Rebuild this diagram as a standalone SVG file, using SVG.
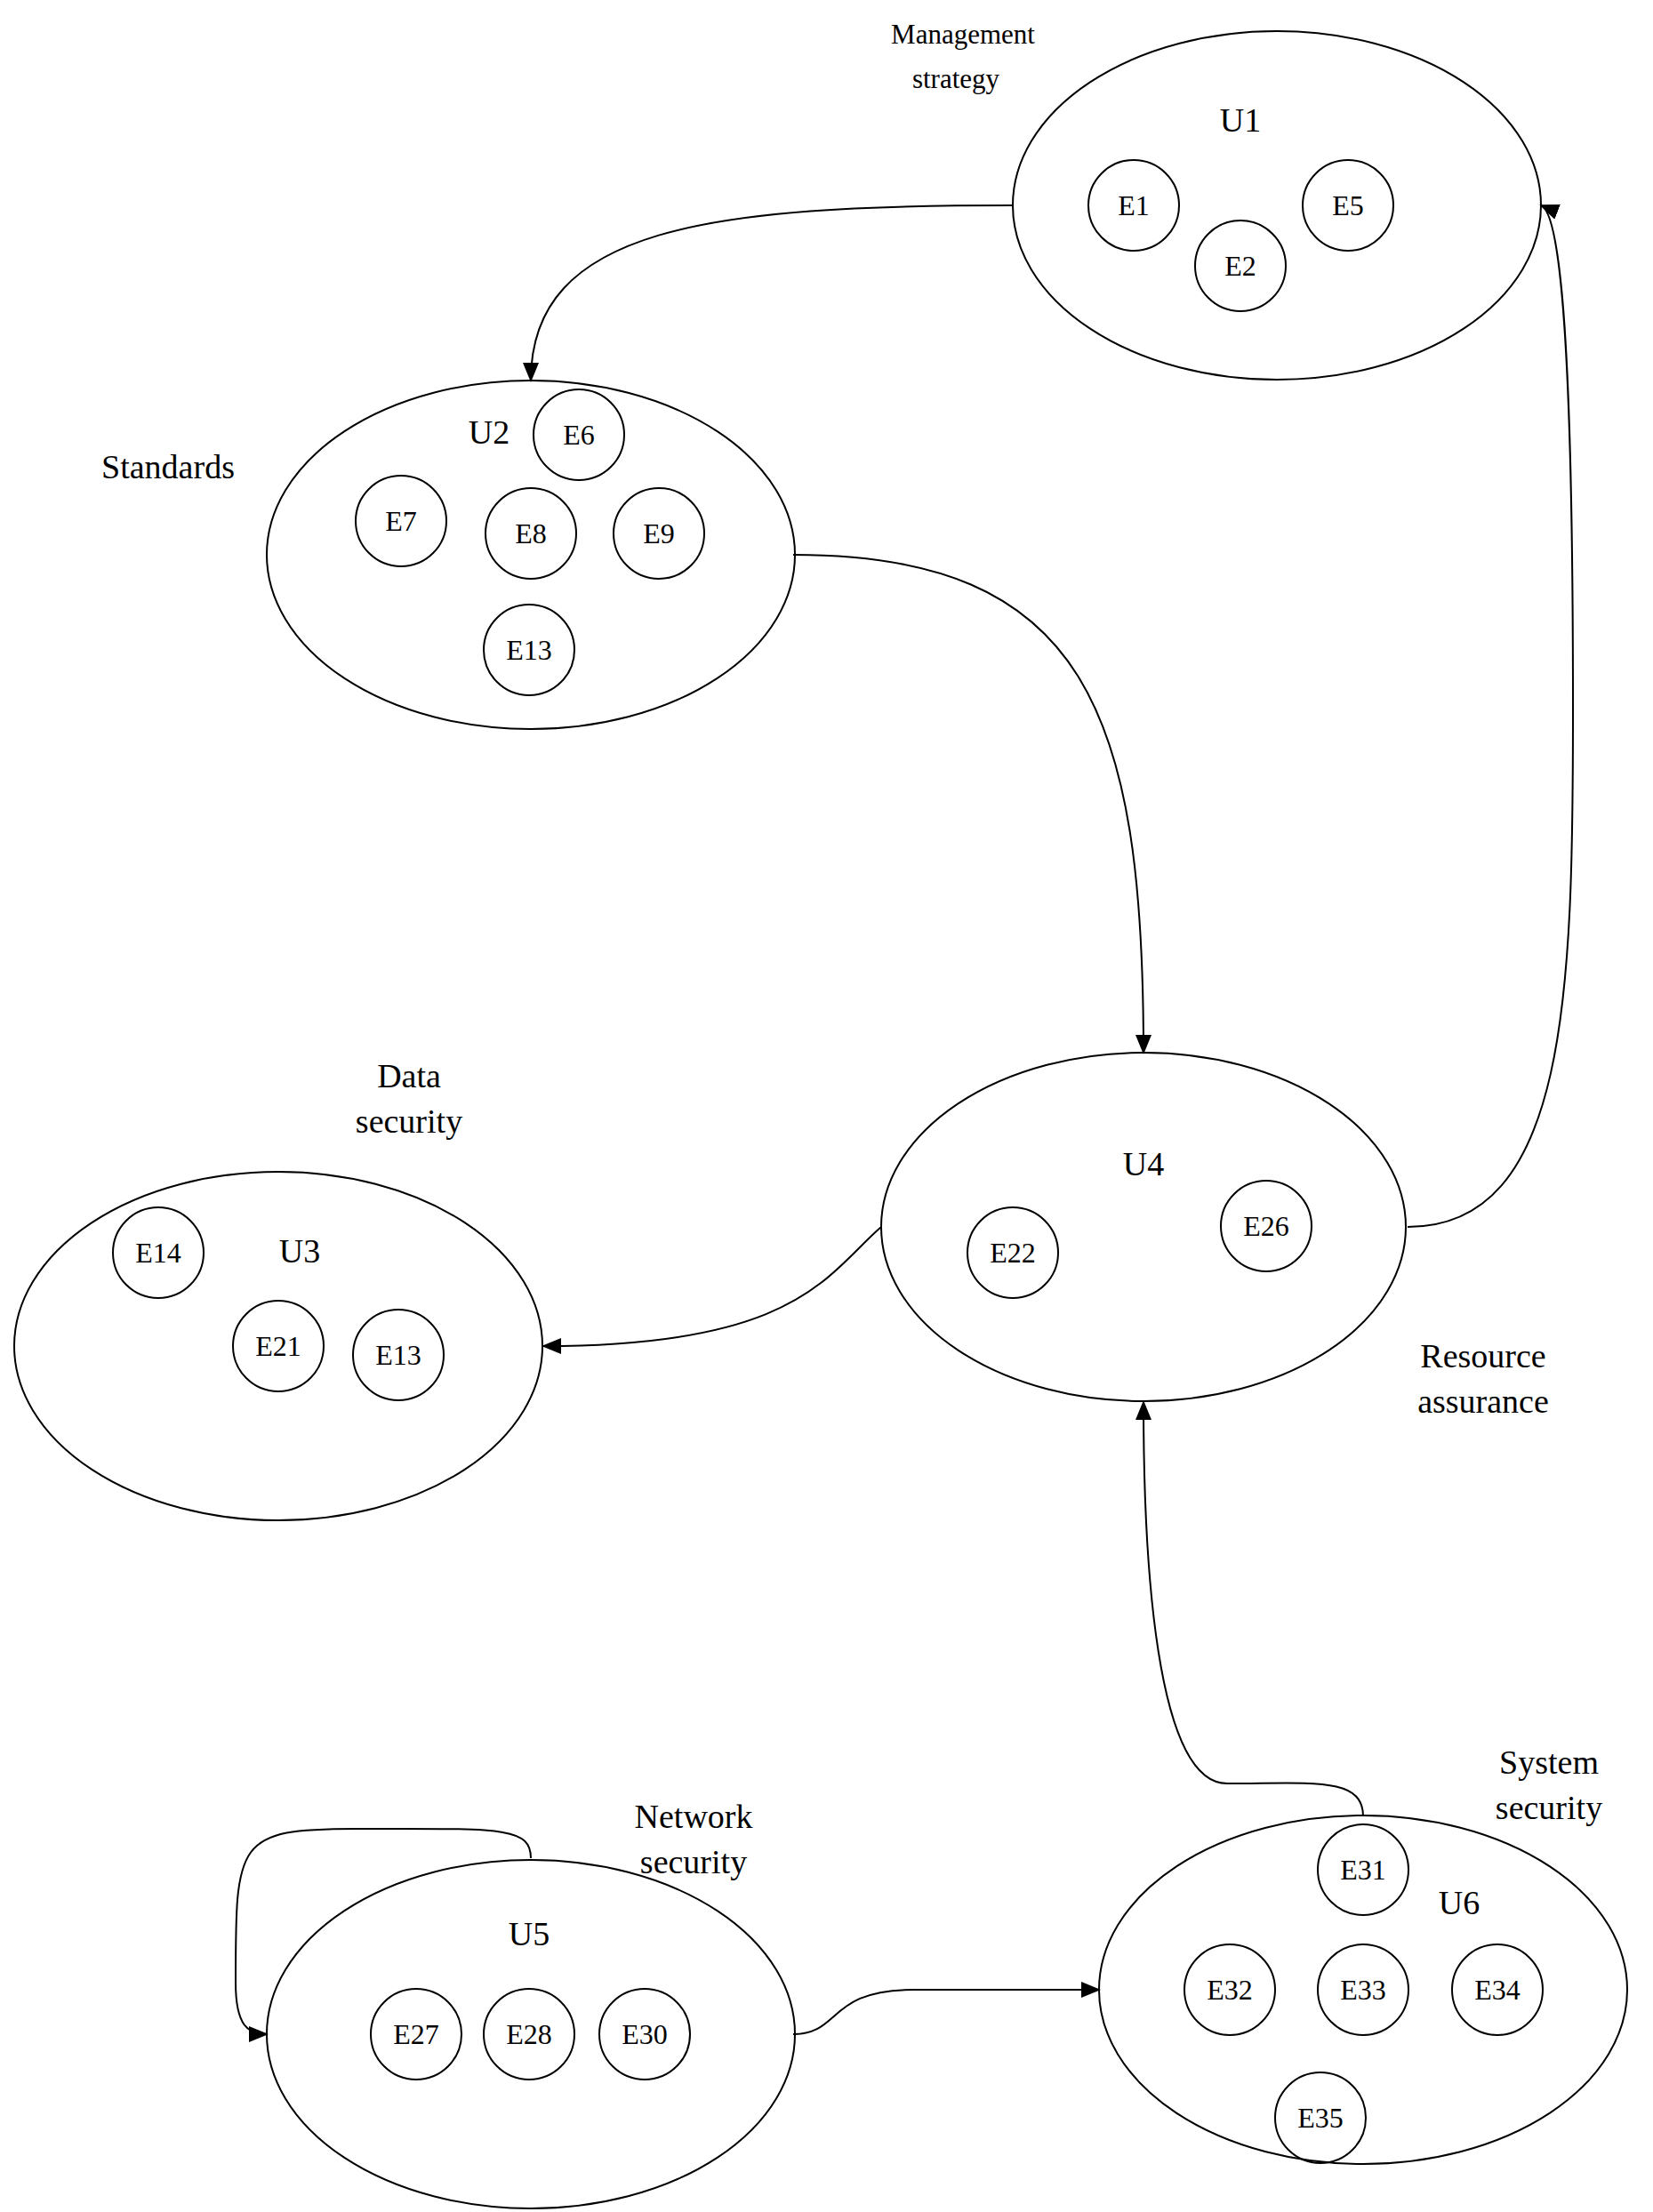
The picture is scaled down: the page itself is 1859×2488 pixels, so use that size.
<svg xmlns="http://www.w3.org/2000/svg" width="1859" height="2488" viewBox="0 0 1859 2488">
<style>
.big{fill:none;stroke:#000;stroke-width:2}
.sm{fill:none;stroke:#000;stroke-width:2}
text{font-family:"Liberation Serif",serif;fill:#000;text-anchor:middle;dominant-baseline:central}
.u{font-size:38px}.e{font-size:32px}.l{font-size:38px}.m{font-size:31px}
.c{fill:none;stroke:#000;stroke-width:2;marker-end:url(#a)}
</style>
<defs><marker id="a" markerUnits="userSpaceOnUse" markerWidth="22" markerHeight="18" refX="20" refY="9" orient="auto"><path d="M0,0 L22,9 L0,18 Z" fill="#000"/></marker></defs>
<rect width="1859" height="2488" fill="#fff"/>
<g id="U1"><ellipse class="big" cx="1436" cy="231" rx="297" ry="196"/><text class="u" x="1395" y="135">U1</text>
<circle class="sm" cx="1275" cy="231" r="51"/><text class="e" x="1275" y="231">E1</text>
<circle class="sm" cx="1395" cy="299" r="51"/><text class="e" x="1395" y="299">E2</text>
<circle class="sm" cx="1516" cy="231" r="51"/><text class="e" x="1516" y="231">E5</text>
<text class="m" x="1083" y="38">Management</text><text class="m" x="1075" y="88">strategy</text></g>
<g id="U2"><ellipse class="big" cx="597" cy="624" rx="297" ry="196"/><text class="u" x="550" y="486">U2</text>
<circle class="sm" cx="651" cy="489" r="51"/><text class="e" x="651" y="489">E6</text>
<circle class="sm" cx="451" cy="586" r="51"/><text class="e" x="451" y="586">E7</text>
<circle class="sm" cx="597" cy="600" r="51"/><text class="e" x="597" y="600">E8</text>
<circle class="sm" cx="741" cy="600" r="51"/><text class="e" x="741" y="600">E9</text>
<circle class="sm" cx="595" cy="731" r="51"/><text class="e" x="595" y="731">E13</text>
<text class="l" x="189" y="525">Standards</text></g>
<g id="U4"><ellipse class="big" cx="1286" cy="1380" rx="295" ry="196"/><text class="u" x="1286" y="1309">U4</text>
<circle class="sm" cx="1139" cy="1409" r="51"/><text class="e" x="1139" y="1409">E22</text>
<circle class="sm" cx="1424" cy="1379" r="51"/><text class="e" x="1424" y="1379">E26</text>
<text class="l" x="1668" y="1525">Resource</text><text class="l" x="1668" y="1576">assurance</text></g>
<g id="U3"><ellipse class="big" cx="313" cy="1514" rx="297" ry="196"/><text class="u" x="337" y="1407">U3</text>
<circle class="sm" cx="178" cy="1409" r="51"/><text class="e" x="178" y="1409">E14</text>
<circle class="sm" cx="313" cy="1514" r="51"/><text class="e" x="313" y="1514">E21</text>
<circle class="sm" cx="448" cy="1524" r="51"/><text class="e" x="448" y="1524">E13</text>
<text class="l" x="460" y="1210">Data</text><text class="l" x="460" y="1261">security</text></g>
<g id="U5"><ellipse class="big" cx="597" cy="2288" rx="297" ry="196"/><text class="u" x="595" y="2175">U5</text>
<circle class="sm" cx="468" cy="2288" r="51"/><text class="e" x="468" y="2288">E27</text>
<circle class="sm" cx="595" cy="2288" r="51"/><text class="e" x="595" y="2288">E28</text>
<circle class="sm" cx="725" cy="2288" r="51"/><text class="e" x="725" y="2288">E30</text>
<text class="l" x="780" y="2043">Network</text><text class="l" x="780" y="2094">security</text></g>
<g id="U6"><ellipse class="big" cx="1533" cy="2238" rx="297" ry="196"/><text class="u" x="1641" y="2140">U6</text>
<circle class="sm" cx="1533" cy="2103" r="51"/><text class="e" x="1533" y="2103">E31</text>
<circle class="sm" cx="1383" cy="2238" r="51"/><text class="e" x="1383" y="2238">E32</text>
<circle class="sm" cx="1533" cy="2238" r="51"/><text class="e" x="1533" y="2238">E33</text>
<circle class="sm" cx="1684" cy="2238" r="51"/><text class="e" x="1684" y="2238">E34</text>
<circle class="sm" cx="1485" cy="2382" r="51"/><text class="e" x="1485" y="2382">E35</text>
<text class="l" x="1742" y="1982">System</text><text class="l" x="1742" y="2033">security</text></g>
<g id="connectors">
<path class="c" d="M1139,231 C800,231 597,255 597,428"/>
<path class="c" d="M892,624 C1220,624 1286,800 1286,1184"/>
<path class="c" d="M1583,1380 C1764,1380 1769,1115 1769,796 C1769,400 1756,240 1733,231"/>
<path class="c" d="M991,1380 C930,1433 898,1514 611,1514"/>
<path class="c" d="M1533,2043 C1533,1998 1476,2006 1380,2006 C1299,2006 1286,1751 1286,1577"/>
<path class="c" d="M597,2090 C597,2054 561,2057 401,2057 C265,2057 265,2070 265,2230 C265,2280 280,2288 300,2288"/>
<path class="c" d="M892,2288 C946,2288 930,2238 1027,2238 L1236,2238"/>
</g>
</svg>
